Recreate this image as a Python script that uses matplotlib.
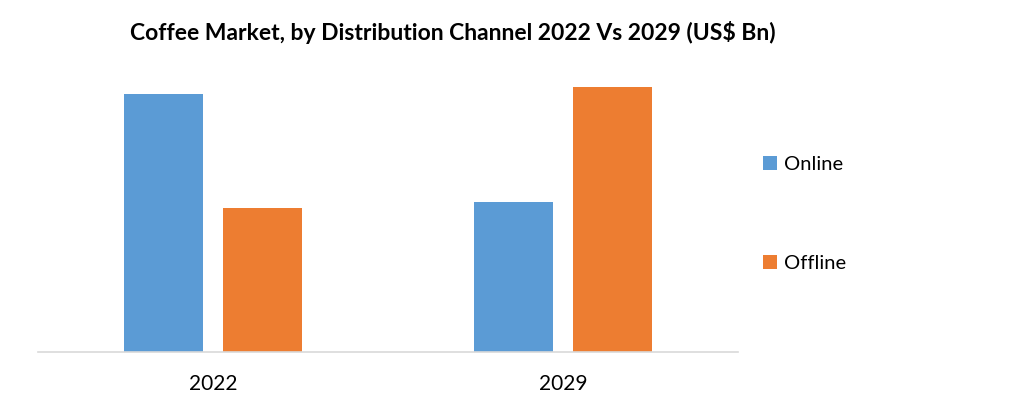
import matplotlib
matplotlib.use("Agg")
import matplotlib.pyplot as plt
import numpy as np

categories = ["2022", "2029"]
series_names = ["Online", "Offline"]
online = [258, 150]
offline = [144, 265]
colors = ["#5B9BD5", "#ED7D31"]

plt.rcParams['font.family'] = ['Lato', 'DejaVu Sans']

fig = plt.figure(figsize=(10.23, 3.97), dpi=100)
ax = fig.add_axes([38/1023, (397-352)/397, 700/1023, (352-60)/397])

x = np.arange(len(categories))
w = 0.223
off = 0.1414
ax.bar(x - off, online, width=w, color=colors[0], label=series_names[0])
ax.bar(x + off, offline, width=w, color=colors[1], label=series_names[1])

ax.set_xlim(-0.5, 1.5)
ax.set_ylim(0, 292)
ax.set_xticks(x)
ax.set_xticklabels(categories, fontsize=15)
ax.tick_params(axis='x', length=0, pad=16, colors='#000000')
ax.set_yticks([])
for s in ['top', 'right', 'left']:
    ax.spines[s].set_visible(False)
ax.spines['bottom'].set_color('#D9D9D9')
ax.spines['bottom'].set_linewidth(1.2)

fig.text(453/1023, 1 - 32/397, "Coffee Market, by Distribution Channel 2022 Vs 2029 (US$ Bn)",
         ha='center', va='center', fontsize=16.5, fontweight='bold')

leg = fig.legend(loc='center left', bbox_to_anchor=(745/1023, 1 - 214/397), frameon=False,
                 fontsize=14.5, handlelength=0.7, handleheight=0.7, handletextpad=0.35,
                 labelspacing=4.1)

fig.savefig("out.png", dpi=100)
